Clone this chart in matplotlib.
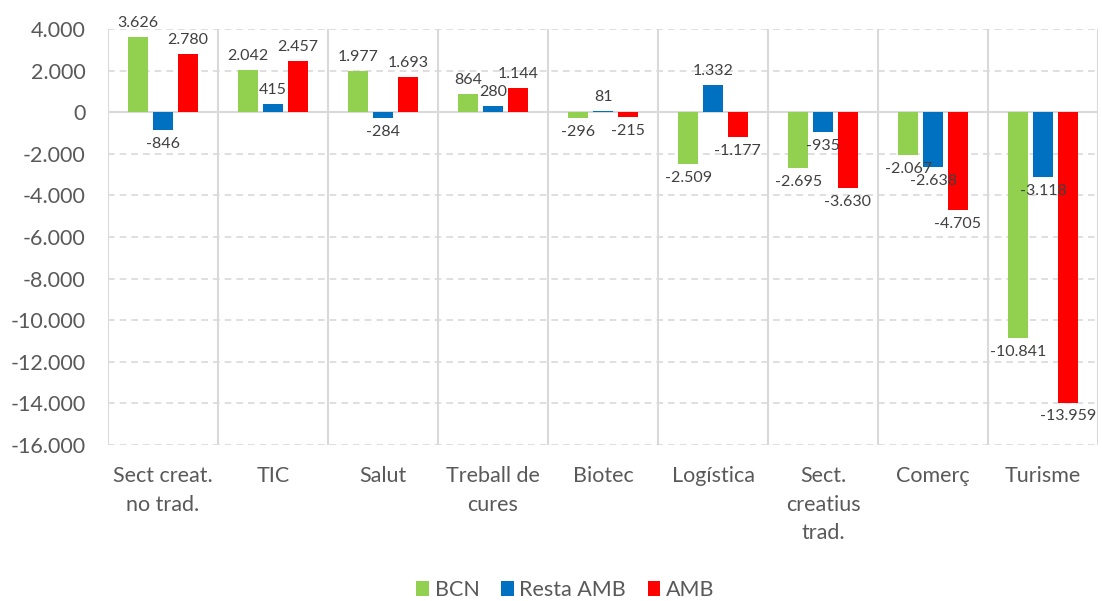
import numpy as np
import matplotlib
matplotlib.use("Agg")
import matplotlib.pyplot as plt
from matplotlib.ticker import FuncFormatter

plt.rcParams['font.family'] = ['Lato', 'DejaVu Sans']

# dades
sectors = ["Sect creat.\nno trad.", "TIC", "Salut", "Treball de\ncures", "Biotec",
           "Logística", "Sect.\ncreatius\ntrad.", "Comerç", "Turisme"]
bcn = [3626, 2042, 1977, 864, -296, -2509, -2695, -2067, -10841]
resta_amb = [-846, 415, -284, 280, 81, 1332, -935, -2638, -3118]
amb = [2780, 2457, 1693, 1144, -215, -1177, -3630, -4705, -13959]

series = [("BCN", bcn, "#92D050"), ("Resta AMB", resta_amb, "#0070C0"), ("AMB", amb, "#FF0000")]
text_color = "#595959"


def fmt_num(v, pos=None):
    return f"{v:,.0f}".replace(",", ".")


fig = plt.figure(figsize=(11.02, 6.01), dpi=100)
ax = fig.add_axes([0.098, 0.2596, 0.8984, 0.6921])

x = np.arange(len(sectors))
width = 0.185
offsets = [-0.225, 0.0, 0.225]

for (name, vals, color), off in zip(series, offsets):
    bars = ax.bar(x + off, vals, width, color=color, label=name, zorder=3)
    for b, v in zip(bars, vals):
        va = "bottom" if v >= 0 else "top"
        dy = 5 if v >= 0 else -5
        ax.annotate(fmt_num(v), (b.get_x() + b.get_width() / 2, v),
                    xytext=(0, dy), textcoords="offset points",
                    ha="center", va=va, fontsize=11.5, color="#404040", zorder=4)

ax.set_ylim(-16000, 4000)
ax.set_yticks(np.arange(-16000, 4001, 2000))
ax.yaxis.set_major_formatter(FuncFormatter(fmt_num))
ax.set_xlim(-0.5, len(sectors) - 0.5)
ax.set_xticks(x)
ax.set_xticklabels(sectors, fontsize=15.5, color=text_color, linespacing=1.55, va="top")
ax.tick_params(axis="y", labelsize=15.5, labelcolor=text_color, length=0, pad=16)
ax.tick_params(axis="x", length=0, pad=15)

for s in ax.spines.values():
    s.set_visible(False)

# línies de quadrícula
for yv in np.arange(-16000, 4001, 2000):
    if yv != 0:
        ax.axhline(yv, color="#D9D9D9", lw=1.2, ls=(0, (4, 3)), zorder=1)
ax.axhline(0, color="#D9D9D9", lw=1.5, zorder=2)
for xv in np.arange(-0.5, len(sectors), 1.0):
    ax.axvline(xv, color="#D9D9D9", lw=1.5, zorder=1)

leg = fig.legend(loc="center", bbox_to_anchor=(0.513, 0.018), ncol=3, frameon=False,
                 fontsize=15.5, handlelength=0.6, handleheight=0.7, handletextpad=0.25,
                 columnspacing=1.0)
for t in leg.get_texts():
    t.set_color(text_color)

fig.savefig("out.png", dpi=100)
